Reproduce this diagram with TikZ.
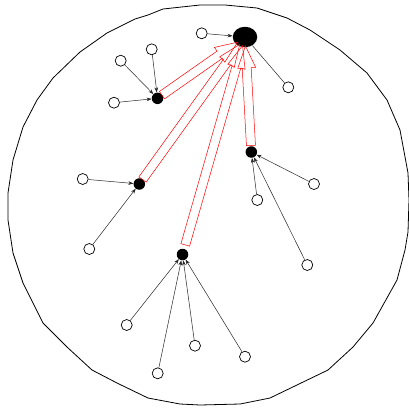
\documentclass[tikz,border=0pt]{standalone}
\usetikzlibrary{calc,arrows.meta,shapes.geometric}
\newcommand\redblock[2]{%
  \coordinate (T) at ($(#1)!#2!(big)$);
  \coordinate (P) at ($(big)!9pt!(#1)$);
  \coordinate (H) at ($(P)!22pt!(T)$);
  \draw[blockarrow] ($(T)!4.5pt!90:(P)$) -- ($(H)!4.5pt!-90:(T)$) -- ($(H)!9pt!-90:(T)$) -- (P)
    -- ($(H)!9pt!90:(T)$) -- ($(H)!4.5pt!90:(T)$) -- ($(T)!4.5pt!-90:(P)$) -- cycle;
}
\begin{document}
\begin{tikzpicture}[x=1pt,y=-1pt,
  leaf/.style={circle,draw=black,fill=white,line width=0.7pt,minimum size=11pt,inner sep=0pt},
  hub/.style={circle,fill=black,minimum size=11.5pt,inner sep=0pt},
  root/.style={ellipse,fill=black,minimum width=24.5pt,minimum height=20.5pt,inner sep=0pt},
  link/.style={draw=black!85,line width=0.5pt},
  feed/.style={link,-{Stealth[length=5pt,width=3.6pt]}},
  blockarrow/.style={draw=red,line width=0.5pt},
  rim/.style={draw=black,line width=0.8pt}]
\useasboundingbox (0,0) rectangle (409,408);
% outer boundary
\draw[rim] (200,5) -- (225,5) -- (257,8) -- (287,18) -- (310,30) -- (340,50) -- (367,73)
  -- (387,100) -- (400,130) -- (408,173) -- (409,200) -- (408,232) -- (405,250) -- (397,280)
  -- (373,323) -- (353,347) -- (328,370) -- (270,398) -- (240,404) -- (200,405) -- (180,404)
  -- (148,398) -- (117,383) -- (92,370) -- (67,347) -- (43,323) -- (23,283) -- (13,253)
  -- (8,220) -- (8,193) -- (13,160) -- (23,127) -- (37,100) -- (53,78) -- (80,52)
  -- (107,33) -- (135,19) -- (148,15) -- (163,9) -- cycle;
% nodes
\node[root] (big) at (245,37) {};
\node[hub] (a) at (157.5,98.3) {};
\node[hub] (b) at (139.3,184) {};
\node[hub] (c) at (251.3,152) {};
\node[hub] (d) at (182.5,254.5) {};
\node[leaf] (w1) at (201.7,33.3) {};
\node[leaf] (w2) at (288.3,87.3) {};
\node[leaf] (a1) at (120.7,60.7) {};
\node[leaf] (a2) at (151.7,49.3) {};
\node[leaf] (a3) at (114,102.7) {};
\node[leaf] (b1) at (82.7,179) {};
\node[leaf] (b2) at (89.3,249) {};
\node[leaf] (c1) at (257.3,200) {};
\node[leaf] (c2) at (314,184) {};
\node[leaf] (c3) at (307.3,265) {};
\node[leaf] (d1) at (126.7,325) {};
\node[leaf] (d2) at (157.7,373.3) {};
\node[leaf] (d3) at (195,345.7) {};
\node[leaf] (d4) at (245,356.7) {};
% connectors
\draw[feed] (w1) -- (big);
\draw[link] (big) -- (w2);
\draw[feed] (a1) -- (a);
\draw[feed] (a2) -- (a);
\draw[feed] (a3) -- (a);
\draw[feed] (b1) -- (b);
\draw[feed] (b2) -- (b);
\draw[feed] (c1) -- (c);
\draw[feed] (c2) -- (c);
\draw[feed] (c3) -- (c);
\draw[feed] (d1) -- (d);
\draw[feed] (d2) -- (d);
\draw[feed] (d3) -- (d);
\draw[feed] (d4) -- (d);
% red block arrows
\redblock{a}{5.5pt}
\redblock{b}{5.5pt}
\redblock{c}{6.5pt}
\redblock{d}{10pt}
\end{tikzpicture}
\end{document}
